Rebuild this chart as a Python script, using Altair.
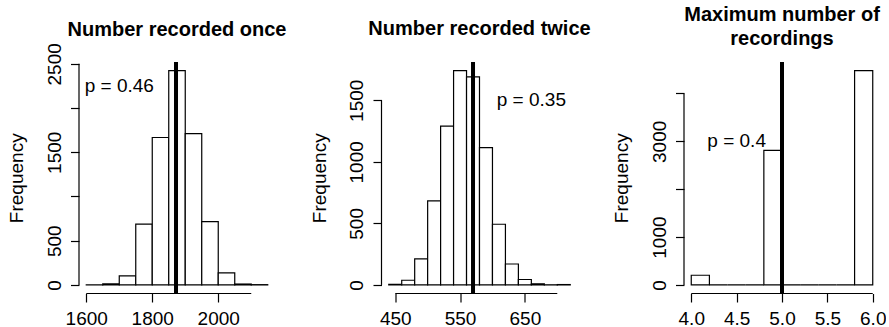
import altair as alt
import pandas as pd

FONT = "Liberation Sans"

# ---------- Panel 1: Number recorded once ----------
once_title = "Number recorded once"
once_breaks = [1600, 1650, 1700, 1750, 1800, 1850, 1900, 1950, 2000, 2050, 2100, 2150]
once_counts = [2, 11, 102, 687, 1667, 2424, 1712, 716, 136, 10, 3]
once_observed = 1872
once_ptext = "p = 0.46"
once_ppos = [1700, 2250]
once_xticks = [1600, 1700, 1800, 1900, 2000, 2100]
once_xshown = [1600, 1800, 2000]
once_yticks = [0, 500, 1000, 1500, 2000, 2500]
once_yshown = [0, 500, 1500, 2500]

# ---------- Panel 2: Number recorded twice ----------
twice_title = "Number recorded twice"
twice_breaks = [440, 460, 480, 500, 520, 540, 560, 580, 600, 620, 640, 660, 680, 700, 720]
twice_counts = [5, 38, 212, 682, 1289, 1741, 1690, 1115, 493, 170, 44, 9, 1, 3]
twice_observed = 570
twice_ptext = "p = 0.35"
twice_ppos = [660, 1500]
twice_xticks = [450, 500, 550, 600, 650, 700]
twice_xshown = [450, 550, 650]
twice_yticks = [0, 500, 1000, 1500]
twice_yshown = [0, 500, 1000, 1500]

# ---------- Panel 3: Maximum number of recordings ----------
max_title = ["Maximum number of", "recordings"]
max_breaks = [4.0, 4.2, 4.4, 4.6, 4.8, 5.0, 5.2, 5.4, 5.6, 5.8, 6.0]
max_counts = [202, 0, 0, 0, 2812, 0, 0, 0, 0, 4479]
max_observed = 5.0
max_ptext = "p = 0.4"
max_ppos = [4.5, 3000]
max_xticks = [4.0, 4.5, 5.0, 5.5, 6.0]
max_xshown = [4.0, 4.5, 5.0, 5.5, 6.0]
max_yticks = [0, 1000, 2000, 3000, 4000]
max_yshown = [0, 1000, 3000]

W = 196
H = 231.5
LAB = 19


def panel(title, breaks, counts, observed, ptext, ppos, xticks, xshown,
          yticks, yshown, xfmt, title_offset):
    bins = pd.DataFrame({"lo": breaks[:-1], "hi": breaks[1:], "n": counts})
    xr = breaks[-1] - breaks[0]
    xdom = [breaks[0] - 0.04 * xr, breaks[-1] + 0.04 * xr]
    ymax = max(counts)
    ydom = [-0.04 * ymax, 1.04 * ymax]
    xs = alt.Scale(domain=xdom, nice=False, zero=False)
    ys = alt.Scale(domain=ydom, nice=False, zero=False)

    xaxis = alt.Axis(
        values=xticks, domain=False, grid=False, ticks=True, tickSize=8.5,
        tickColor="black", tickWidth=1.2, labelFont=FONT, labelFontSize=LAB,
        labelColor="black", labelPadding=22, labelBaseline="alphabetic",
        labelOverlap=False, labelFlush=False, format=xfmt,
        labelExpr=f"indexof({list(xshown)}, datum.value) >= 0 ? datum.label : ''",
        title=None,
    )
    yaxis = alt.Axis(
        values=yticks, domain=False, grid=False, ticks=True, tickSize=8.5,
        tickColor="black", tickWidth=1.2, labelFont=FONT, labelFontSize=LAB,
        labelColor="black", labelPadding=10.5, labelAngle=270,
        labelAlign="center", labelBaseline="alphabetic",
        labelOverlap=False, labelFlush=False, format="d",
        labelExpr=f"indexof({list(yshown)}, datum.value) >= 0 ? datum.label : ''",
        title="Frequency", titleFont=FONT, titleFontSize=LAB,
        titleFontWeight="normal", titleColor="black", titleAngle=270,
        titleX=-56.5, titleY=H / 2, titleAlign="center",
        titleBaseline="alphabetic",
    )

    bars = alt.Chart(bins).mark_rect(
        fill="white", stroke="black", strokeWidth=1.2
    ).encode(
        x=alt.X("lo:Q", scale=xs, axis=xaxis),
        x2="hi:Q",
        y=alt.Y("n:Q", scale=ys, axis=yaxis),
        y2=alt.datum(0),
    )

    xline = alt.Chart(pd.DataFrame({"a": [xticks[0]], "b": [xticks[-1]], "y": [ydom[0]]})).mark_rule(
        color="black", strokeWidth=1.2
    ).encode(x="a:Q", x2="b:Q", y="y:Q")

    yline = alt.Chart(pd.DataFrame({"x": [xdom[0]], "a": [yticks[0]], "b": [yticks[-1]]})).mark_rule(
        color="black", strokeWidth=1.2
    ).encode(x="x:Q", y="a:Q", y2="b:Q")

    vline = alt.Chart(pd.DataFrame({"v": [observed]})).mark_rule(
        color="black", strokeWidth=4
    ).encode(x="v:Q")

    ptxt = alt.Chart(pd.DataFrame({"x": [ppos[0]], "y": [ppos[1]], "t": [ptext]})).mark_text(
        font=FONT, fontSize=LAB, color="black", align="center", baseline="middle"
    ).encode(x="x:Q", y="y:Q", text="t:N")

    return alt.layer(bars, xline, yline, vline, ptxt).properties(
        width=W, height=H,
        title=alt.TitleParams(
            text=title, font=FONT, fontSize=20, fontWeight="bold", color="black",
            anchor="middle", frame="group", baseline="alphabetic",
            offset=title_offset, lineHeight=23.7,
        ),
    )


p1 = panel(once_title, once_breaks, once_counts, once_observed, once_ptext, once_ppos,
           once_xticks, once_xshown, once_yticks, once_yshown, "d", -13)
p2 = panel(twice_title, twice_breaks, twice_counts, twice_observed, twice_ptext, twice_ppos,
           twice_xticks, twice_xshown, twice_yticks, twice_yshown, "d", 5.5)
p3 = panel(max_title, max_breaks, max_counts, max_observed, max_ptext, max_ppos,
           max_xticks, max_xshown, max_yticks, max_yshown, ".1f", -5)

chart = alt.hconcat(p1, p2, p3, spacing=106.5, bounds="flush").properties(
    padding={"left": 7, "top": 5, "right": 0, "bottom": 0},
    background="white",
).configure_view(stroke=None)

chart.save("out.html", embed_options={"renderer": "svg", "actions": False})
